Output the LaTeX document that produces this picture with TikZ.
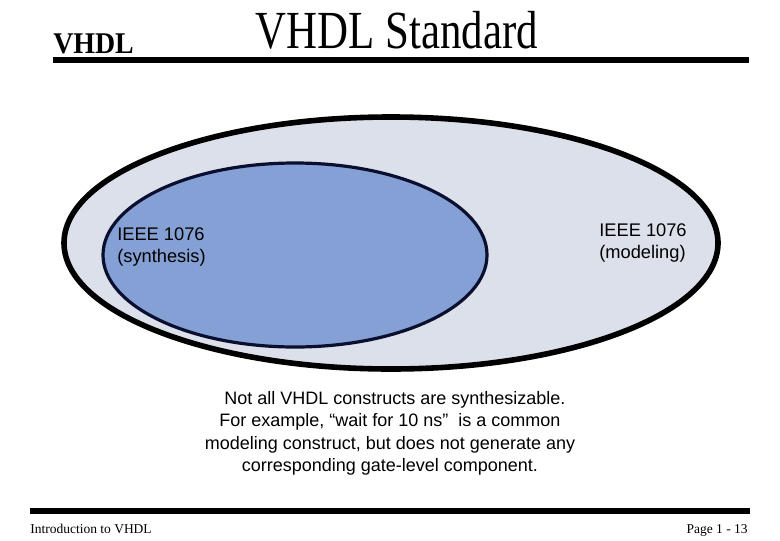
\documentclass[tikz,border=0pt]{standalone}
\usepackage{graphicx}
\usepackage{fontspec}
\setmainfont{Liberation Serif}
\setsansfont{Liberation Sans}
\definecolor{modelfill}{HTML}{DCE0EA}
\definecolor{synthfill}{HTML}{84A0D4}
\definecolor{synthline}{HTML}{0A0F30}
\begin{document}
\begin{tikzpicture}[x=0.25mm,y=-0.25mm,
  rule/.style={line width=1.3mm},
  lbl/.style={font=\sffamily\fontsize{13}{16}\selectfont, align=left, inner sep=0pt},
  note/.style={font=\sffamily\fontsize{12.8}{16}\selectfont, align=center, inner sep=0pt},
  foot/.style={inner sep=0pt, font=\fontsize{9.6}{9.6}\selectfont}]

\useasboundingbox (0,0) rectangle (780,540);
%\draw(0,0) grid[step=20] (780,540);

% header
\node[anchor=base west, inner sep=0pt, font=\fontsize{19.8}{20}\selectfont\bfseries] (hdr) at (53,53) {\scalebox{1}[1.08]{VHDL}};
\node[anchor=base, inner sep=0pt, font=\fontsize{30.5}{31}\selectfont] (title) at (397,48) {\scalebox{1}[1.25]{VHDL Standard}};
\draw[rule] (53,60) -- (749,60);

% modeling
\draw[line width=1.4mm, fill=modelfill] (391,243) ellipse [x radius=327, y radius=126];
% synthesis
\draw[line width=0.8mm, draw=synthline, fill=synthfill] (295,255) ellipse [x radius=192, y radius=92];

\node[lbl, anchor=north west] (synth) at (117,227) {IEEE 1076\\(synthesis)};
\node[lbl, anchor=north west] (model) at (599,223) {IEEE 1076\\(modeling)};

\node[note, anchor=north] (remark) at (390,391) {~~Not all VHDL constructs are synthesizable.\\
For example, “wait for 10 ns”~ is a common~\\
modeling construct, but does not generate any\\
corresponding gate-level component.};

% footer
\draw[rule] (30,511) -- (750,511);
\node[foot, anchor=base west] (course) at (30,533) {Introduction to VHDL};
\node[foot, anchor=base east] (page) at (748,533) {Page 1 - 13};

\end{tikzpicture}
\end{document}
